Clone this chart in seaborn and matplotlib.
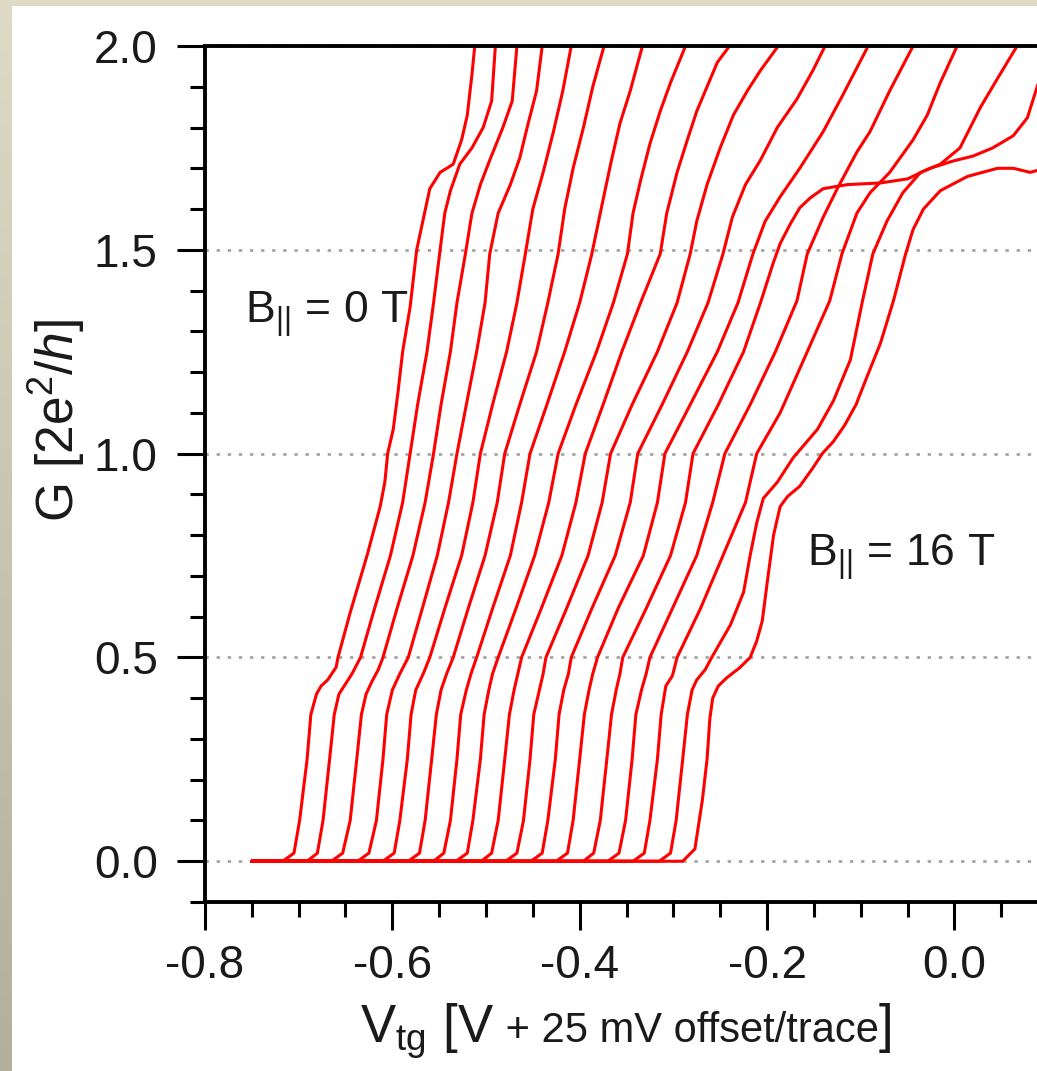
import numpy as np
import pandas as pd
import seaborn as sns
import matplotlib.pyplot as plt
from matplotlib.ticker import MultipleLocator
from matplotlib.colors import LinearSegmentedColormap
from matplotlib.patches import Rectangle
from matplotlib.offsetbox import TextArea, HPacker, AnchoredOffsetbox

# conductance traces, B|| = 0 ... 16 T, each shifted by 25 mV
B_field = list(range(17))

trace_V = [
    [-0.750, -0.717, -0.705, -0.699, -0.691, -0.687, -0.681, -0.676, -0.669, -0.660, -0.658, -0.645, -0.627, -0.613,
     -0.608, -0.605, -0.599, -0.594, -0.589, -0.581, -0.574, -0.560, -0.549, -0.535, -0.526, -0.520, -0.515, -0.512],
    [-0.750, -0.691, -0.680, -0.674, -0.667, -0.662, -0.657, -0.650, -0.643, -0.634, -0.619, -0.602, -0.589, -0.581,
     -0.573, -0.563, -0.556, -0.549, -0.544, -0.538, -0.528, -0.515, -0.503, -0.494, -0.490],
    [-0.750, -0.665, -0.653, -0.645, -0.638, -0.633, -0.628, -0.622, -0.615, -0.610, -0.595, -0.578, -0.565, -0.556,
     -0.548, -0.538, -0.531, -0.522, -0.515, -0.506, -0.496, -0.482, -0.472, -0.467],
    [-0.750, -0.637, -0.625, -0.617, -0.610, -0.606, -0.600, -0.592, -0.583, -0.568, -0.552, -0.540, -0.531, -0.521,
     -0.510, -0.501, -0.496, -0.487, -0.474, -0.464, -0.455, -0.446, -0.440],
    [-0.750, -0.610, -0.598, -0.592, -0.584, -0.580, -0.575, -0.567, -0.560, -0.544, -0.526, -0.514, -0.506, -0.493,
     -0.478, -0.467, -0.458, -0.450, -0.439, -0.428, -0.418, -0.409],
    [-0.750, -0.583, -0.571, -0.565, -0.558, -0.553, -0.548, -0.542, -0.535, -0.519, -0.501, -0.488, -0.480, -0.464,
     -0.446, -0.434, -0.423, -0.416, -0.407, -0.396, -0.386, -0.374],
    [-0.750, -0.556, -0.545, -0.538, -0.531, -0.527, -0.521, -0.516, -0.510, -0.493, -0.474, -0.462, -0.453, -0.435,
     -0.416, -0.400, -0.387, -0.378, -0.367, -0.357, -0.346, -0.333],
    [-0.750, -0.532, -0.520, -0.514, -0.506, -0.502, -0.497, -0.493, -0.487, -0.468, -0.448, -0.433, -0.423, -0.404,
     -0.382, -0.364, -0.349, -0.343, -0.335, -0.325, -0.314, -0.303, -0.287],
    [-0.750, -0.505, -0.494, -0.487, -0.480, -0.475, -0.470, -0.466, -0.462, -0.441, -0.419, -0.404, -0.394, -0.375,
     -0.355, -0.335, -0.314, -0.307, -0.296, -0.285, -0.275, -0.264, -0.253, -0.240],
    [-0.750, -0.479, -0.467, -0.460, -0.453, -0.449, -0.443, -0.439, -0.436, -0.414, -0.391, -0.376, -0.367, -0.344,
     -0.317, -0.296, -0.282, -0.275, -0.264, -0.250, -0.236, -0.221, -0.207, -0.188],
    [-0.750, -0.452, -0.440, -0.434, -0.426, -0.422, -0.417, -0.412, -0.409, -0.387, -0.362, -0.346, -0.338, -0.312,
     -0.285, -0.263, -0.247, -0.237, -0.223, -0.207, -0.189, -0.168, -0.151, -0.138],
    [-0.750, -0.425, -0.413, -0.407, -0.400, -0.395, -0.390, -0.386, -0.381, -0.359, -0.332, -0.317, -0.309, -0.282,
     -0.253, -0.231, -0.215, -0.202, -0.186, -0.165, -0.140, -0.119, -0.092],
    [-0.750, -0.396, -0.385, -0.378, -0.371, -0.366, -0.361, -0.357, -0.354, -0.329, -0.303, -0.287, -0.279, -0.252,
     -0.225, -0.207, -0.193, -0.186, -0.175, -0.165, -0.154, -0.140, -0.114, -0.079, -0.050, -0.026, -0.001, 0.020,
     0.041, 0.063, 0.078, 0.088, 0.097],
    [-0.750, -0.370, -0.358, -0.351, -0.344, -0.340, -0.334, -0.329, -0.325, -0.301, -0.275, -0.258, -0.245, -0.218,
     -0.191, -0.168, -0.157, -0.140, -0.125, -0.104, -0.090, -0.069, -0.044],
    [-0.750, -0.343, -0.331, -0.325, -0.317, -0.313, -0.308, -0.301, -0.296, -0.271, -0.247, -0.223, -0.211, -0.186,
     -0.157, -0.133, -0.120, -0.104, -0.090, -0.069, -0.044, -0.029, -0.015, 0.003],
    [-0.750, -0.315, -0.303, -0.297, -0.290, -0.285, -0.280, -0.275, -0.266, -0.259, -0.239, -0.225, -0.218, -0.211,
     -0.204, -0.189, -0.172, -0.146, -0.129, -0.111, -0.098, -0.087, -0.072, -0.055, -0.036, -0.015, 0.006, 0.028,
     0.046, 0.067],
    [-0.750, -0.290, -0.277, -0.269, -0.264, -0.261, -0.258, -0.252, -0.243, -0.229, -0.218, -0.211, -0.205, -0.200,
     -0.193, -0.186, -0.178, -0.165, -0.151, -0.141, -0.129, -0.117, -0.105, -0.093, -0.079, -0.065, -0.052, -0.044,
     -0.033, -0.015, 0.014, 0.046, 0.063, 0.081, 0.097],
]

trace_G = [
    [0, 0, 0.02, 0.10, 0.25, 0.36, 0.41, 0.43, 0.445, 0.476, 0.50, 0.61, 0.75, 0.87, 0.93, 1.00, 1.06, 1.15, 1.25,
     1.36, 1.50, 1.65, 1.69, 1.71, 1.77, 1.83, 1.93, 2.00],
    [0, 0, 0.02, 0.10, 0.25, 0.36, 0.41, 0.435, 0.46, 0.50, 0.62, 0.75, 0.88, 1.00, 1.12, 1.25, 1.37, 1.50, 1.59,
     1.645, 1.71, 1.75, 1.80, 1.865, 2.00],
    [0, 0, 0.02, 0.10, 0.25, 0.36, 0.41, 0.44, 0.47, 0.50, 0.62, 0.75, 0.88, 1.00, 1.12, 1.25, 1.37, 1.49, 1.59,
     1.66, 1.72, 1.80, 1.865, 2.00],
    [0, 0, 0.02, 0.10, 0.25, 0.36, 0.42, 0.46, 0.50, 0.62, 0.75, 0.88, 1.00, 1.12, 1.25, 1.37, 1.49, 1.59, 1.66,
     1.725, 1.81, 1.89, 2.00],
    [0, 0, 0.02, 0.10, 0.25, 0.36, 0.42, 0.46, 0.50, 0.62, 0.75, 0.88, 1.00, 1.12, 1.25, 1.37, 1.49, 1.60, 1.69,
     1.79, 1.89, 2.00],
    [0, 0, 0.02, 0.10, 0.25, 0.36, 0.42, 0.46, 0.50, 0.62, 0.75, 0.88, 1.00, 1.12, 1.25, 1.37, 1.49, 1.60, 1.70,
     1.80, 1.90, 2.00],
    [0, 0, 0.02, 0.10, 0.25, 0.36, 0.42, 0.46, 0.50, 0.62, 0.75, 0.88, 1.00, 1.12, 1.25, 1.37, 1.49, 1.59, 1.71,
     1.81, 1.89, 2.00],
    [0, 0, 0.02, 0.10, 0.25, 0.36, 0.42, 0.46, 0.50, 0.62, 0.75, 0.88, 1.00, 1.12, 1.25, 1.37, 1.49, 1.59, 1.67,
     1.76, 1.84, 1.91, 2.00],
    [0, 0, 0.02, 0.10, 0.25, 0.36, 0.42, 0.46, 0.50, 0.62, 0.75, 0.88, 1.00, 1.12, 1.25, 1.37, 1.49, 1.59, 1.69,
     1.77, 1.84, 1.90, 1.96, 2.00],
    [0, 0, 0.02, 0.10, 0.25, 0.36, 0.42, 0.46, 0.50, 0.62, 0.75, 0.88, 1.00, 1.12, 1.25, 1.37, 1.49, 1.57, 1.66,
     1.75, 1.83, 1.89, 1.94, 2.00],
    [0, 0, 0.02, 0.10, 0.25, 0.36, 0.42, 0.46, 0.50, 0.62, 0.75, 0.88, 1.00, 1.12, 1.25, 1.37, 1.49, 1.58, 1.66,
     1.72, 1.80, 1.87, 1.94, 2.00],
    [0, 0, 0.02, 0.10, 0.25, 0.36, 0.42, 0.46, 0.50, 0.62, 0.75, 0.88, 1.00, 1.12, 1.25, 1.37, 1.49, 1.57, 1.63,
     1.70, 1.79, 1.88, 2.00],
    [0, 0, 0.02, 0.10, 0.25, 0.36, 0.42, 0.46, 0.50, 0.62, 0.75, 0.88, 1.00, 1.12, 1.25, 1.37, 1.47, 1.515, 1.564,
     1.603, 1.627, 1.65, 1.66, 1.664, 1.674, 1.70, 1.718, 1.73, 1.75, 1.78, 1.824, 1.897, 1.96],
    [0, 0, 0.02, 0.10, 0.25, 0.36, 0.42, 0.46, 0.50, 0.62, 0.75, 0.88, 1.00, 1.12, 1.25, 1.375, 1.49, 1.58, 1.65,
     1.74, 1.79, 1.89, 2.00],
    [0, 0, 0.02, 0.10, 0.25, 0.36, 0.43, 0.455, 0.50, 0.62, 0.75, 0.88, 1.00, 1.10, 1.25, 1.375, 1.49, 1.59, 1.64,
     1.69, 1.77, 1.83, 1.91, 2.00],
    [0, 0, 0.02, 0.10, 0.25, 0.36, 0.42, 0.445, 0.47, 0.50, 0.58, 0.66, 0.75, 0.83, 0.89, 0.93, 0.99, 1.06, 1.13,
     1.23, 1.375, 1.49, 1.57, 1.64, 1.69, 1.71, 1.75, 1.85, 1.92, 2.00],
    [0, 0, 0.03, 0.15, 0.25, 0.35, 0.40, 0.43, 0.45, 0.475, 0.50, 0.54, 0.59, 0.68, 0.80, 0.87, 0.895, 0.92, 0.965,
     1.00, 1.03, 1.07, 1.12, 1.19, 1.27, 1.375, 1.49, 1.55, 1.60, 1.645, 1.68, 1.70, 1.70, 1.69, 1.70],
]

x_major = [-0.8, -0.6, -0.4, -0.2, 0.0]
y_major = [0.0, 0.5, 1.0, 1.5, 2.0]

sns.set_theme(style="ticks")
plt.rcParams["font.family"] = ["Liberation Sans", "DejaVu Sans"]
plt.rcParams["mathtext.fontset"] = "custom"
plt.rcParams["mathtext.rm"] = "Liberation Sans"
plt.rcParams["mathtext.it"] = "Liberation Sans:italic"
plt.rcParams["axes.unicode_minus"] = False

rows = []
for b, vs, gs in zip(B_field, trace_V, trace_G):
    for v, g in zip(vs, gs):
        rows.append((b, v, g))
df = pd.DataFrame(rows, columns=["B", "V", "G"])

fig = plt.figure(figsize=(10.37, 10.71), dpi=100)

# beige frame behind a white page
bg = fig.add_axes([0, 0, 1, 1], zorder=-10)
frame_cmap = LinearSegmentedColormap.from_list("frame", ["#dedac6", "#b3af9c"])
bg.imshow(np.linspace(0, 1, 256)[:, None], cmap=frame_cmap, aspect="auto", extent=[0, 1, 0, 1])
bg.add_patch(Rectangle((12 / 1037, 0), 1, 1 - 6 / 1071, color="white", lw=0))
bg.set_xlim(0, 1)
bg.set_ylim(0, 1)
bg.axis("off")

ax = fig.add_axes([205 / 1037, 169 / 1071, 843 / 1037, 856 / 1071])
ax.set_facecolor("white")

sns.lineplot(data=df, x="V", y="G", units="B", estimator=None, sort=False,
             color="#ff0000", linewidth=2.2, legend=False, ax=ax)
for line in ax.lines:
    line.set_solid_joinstyle("round")
    line.set_solid_capstyle("round")

ax.set_xlim(-0.8, 0.1)
ax.set_ylim(-0.1, 2.0)
ax.set_xticks(x_major)
ax.set_yticks(y_major)
ax.xaxis.set_minor_locator(MultipleLocator(0.05))
ax.yaxis.set_minor_locator(MultipleLocator(0.1))
ax.tick_params(which="major", direction="out", length=20, width=2.2, color="black",
               labelsize=33, labelcolor="#1a1a1a")
ax.tick_params(which="minor", direction="out", length=11, width=2.2, color="black")
ax.tick_params(axis="y", which="major", pad=14)
ax.tick_params(axis="x", which="major", pad=10)

for side in ["left", "bottom", "top"]:
    ax.spines[side].set_visible(True)
    ax.spines[side].set_linewidth(2.8)
    ax.spines[side].set_color("black")
ax.spines["right"].set_visible(False)

ax.set_axisbelow(True)
ax.grid(axis="y", which="major", color="#a5a5a5", linestyle=(0, (1.2, 2.8)), linewidth=2.0)
ax.grid(axis="x", visible=False)

ax.text(-0.757, 1.321, r"$\mathregular{B_{||}}$ = 0 T", fontsize=32, color="#1a1a1a",
        ha="left", va="baseline")
ax.text(-0.157, 0.725, r"$\mathregular{B_{||}}$ = 16 T", fontsize=32, color="#1a1a1a",
        ha="left", va="baseline")

ax.set_xlabel("")
ax.set_ylabel(r"G [2$\mathregular{e^{2}}$/$h$]", fontsize=37, color="#1a1a1a")
ax.yaxis.label.set_va("center")
ax.yaxis.set_label_coords(-0.1756, 0.563)

# x label with the larger "V_tg [V" and "]" parts
parts = [
    TextArea(r"$\mathregular{V_{tg}}$ [V", textprops=dict(fontsize=38, color="#1a1a1a")),
    TextArea(" + 25 mV offset/trace", textprops=dict(fontsize=30, color="#1a1a1a")),
    TextArea("]", textprops=dict(fontsize=38, color="#1a1a1a")),
]
xlabel_box = HPacker(children=parts, align="baseline", pad=0, sep=0)
anchored = AnchoredOffsetbox(loc="upper center", child=xlabel_box, pad=0, borderpad=0,
                             frameon=False, bbox_to_anchor=(0.5, -0.1157),
                             bbox_transform=ax.transAxes)
ax.add_artist(anchored)

fig.savefig("out.png", dpi=100)
